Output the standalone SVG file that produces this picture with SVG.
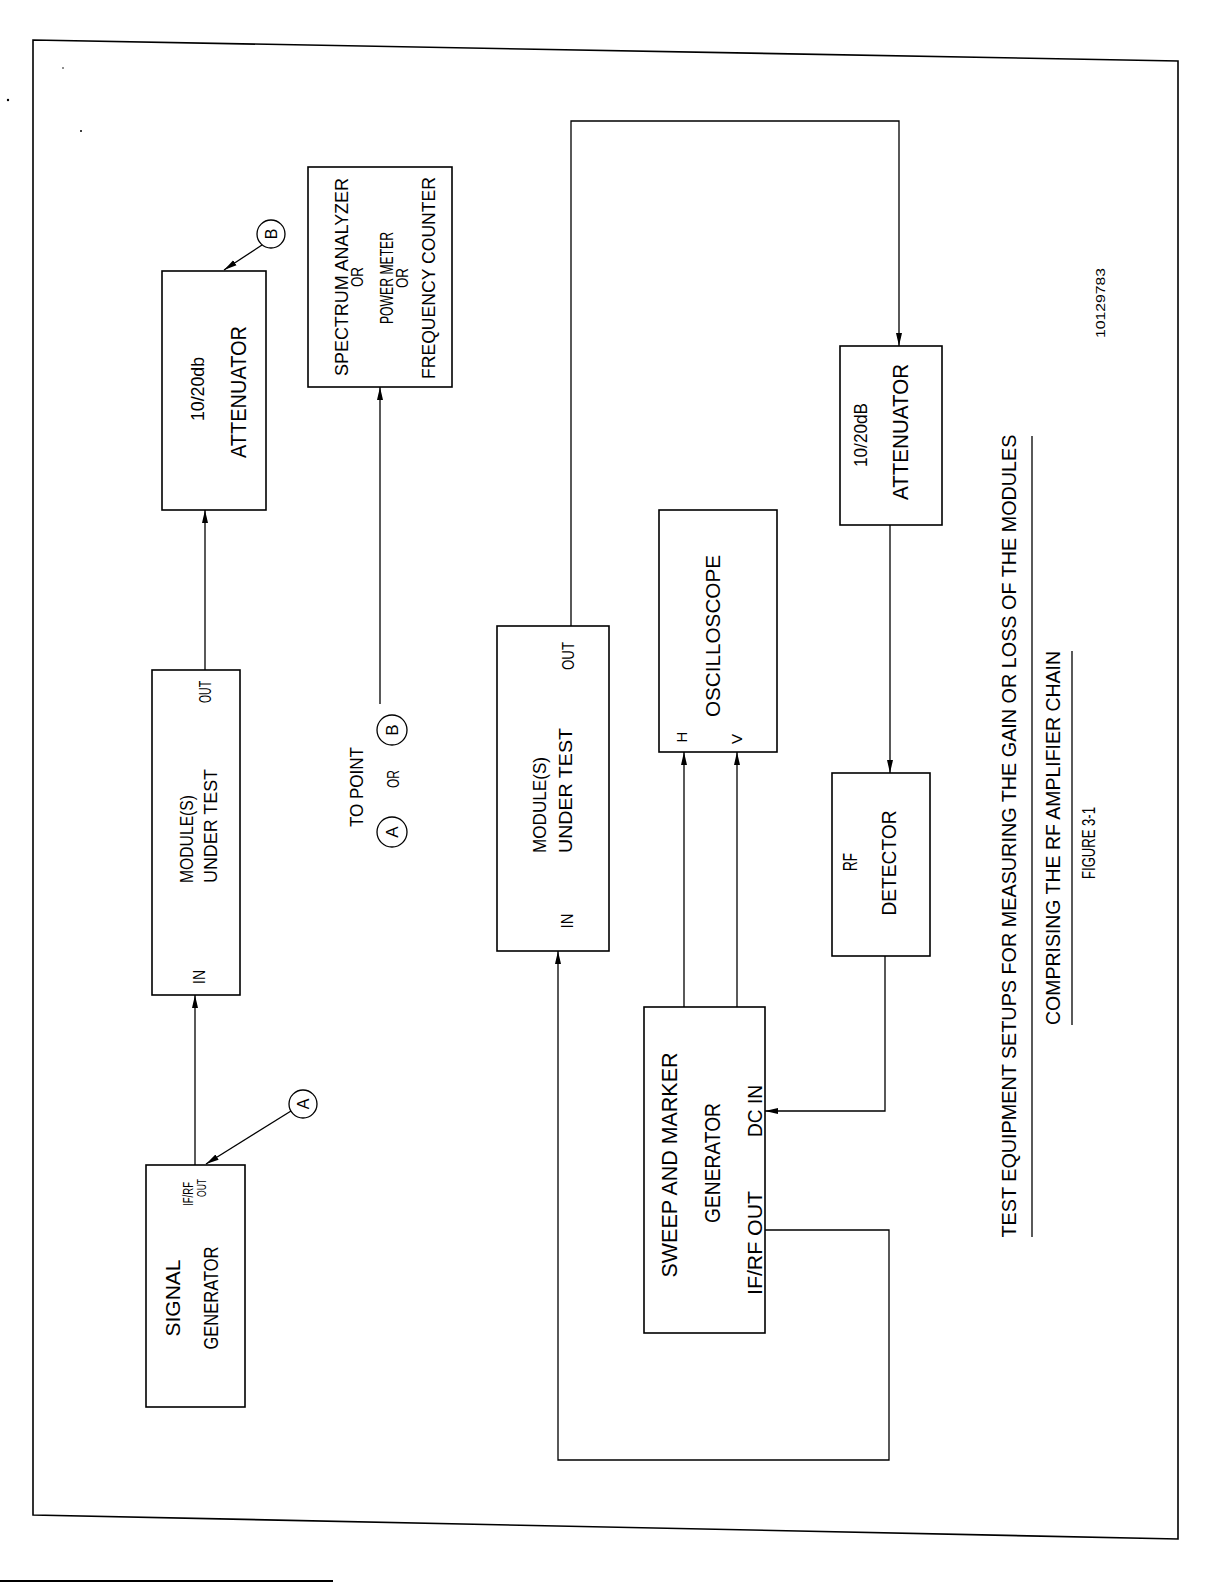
<svg xmlns="http://www.w3.org/2000/svg" width="1224" height="1584" viewBox="0 0 1224 1584">
<style>
.box{fill:none;stroke:#000;stroke-width:1.6}
.ln{fill:none;stroke:#000;stroke-width:1.3}
.t{font-family:"Liberation Sans",Arial,sans-serif;fill:#000;text-anchor:middle}
.ts{font-family:"Liberation Sans",Arial,sans-serif;fill:#000;text-anchor:start}
</style>
<defs>
<marker id="ah" markerUnits="userSpaceOnUse" markerWidth="14" markerHeight="8" refX="13" refY="4" orient="auto"><path d="M0,1 L13,4 L0,7 z" fill="#000"/></marker>
</defs>
<rect width="1224" height="1584" fill="#fff"/>
<polygon class="box" points="33,40 1178,61 1178,1539 33,1515"/>
<line x1="0" y1="1581" x2="333" y2="1581" stroke="#000" stroke-width="2"/>
<circle cx="63" cy="68" r="0.8" fill="#000"/>
<circle cx="8" cy="100" r="1.2" fill="#000"/>
<circle cx="81" cy="131" r="1" fill="#000"/>

<g id="signal-generator">
<rect class="box" x="146" y="1165" width="99" height="242"/>
<text class="t" font-size="21" textLength="77" lengthAdjust="spacingAndGlyphs" transform="translate(180,1298) rotate(-90)">SIGNAL</text>
<text class="t" font-size="21" textLength="103" lengthAdjust="spacingAndGlyphs" transform="translate(218,1298) rotate(-90)">GENERATOR</text>
<text class="t" font-size="14" textLength="24" lengthAdjust="spacingAndGlyphs" transform="translate(193,1194) rotate(-90)">IF/RF</text>
<text class="t" font-size="13" textLength="18" lengthAdjust="spacingAndGlyphs" transform="translate(206,1188) rotate(-90)">OUT</text>
</g>

<g id="point-a">
<circle class="ln" cx="303" cy="1104" r="14"/>
<text class="t" font-size="16" transform="translate(309,1104) rotate(-90)">A</text>
</g>

<g id="module-1">
<rect class="box" x="152" y="670" width="88" height="325"/>
<text class="ts" font-size="19" textLength="88" lengthAdjust="spacingAndGlyphs" transform="translate(193,883) rotate(-90)">MODULE(S)</text>
<text class="ts" font-size="19" textLength="114" lengthAdjust="spacingAndGlyphs" transform="translate(217,883) rotate(-90)">UNDER TEST</text>
<text class="t" font-size="16" textLength="14" lengthAdjust="spacingAndGlyphs" transform="translate(205,977) rotate(-90)">IN</text>
<text class="t" font-size="16" textLength="22" lengthAdjust="spacingAndGlyphs" transform="translate(211,692) rotate(-90)">OUT</text>
</g>

<g id="attenuator-1">
<rect class="box" x="162" y="271" width="104" height="239"/>
<text class="t" font-size="18" textLength="64" lengthAdjust="spacingAndGlyphs" transform="translate(204,389) rotate(-90)">10/20db</text>
<text class="t" font-size="22" textLength="132" lengthAdjust="spacingAndGlyphs" transform="translate(246,392) rotate(-90)">ATTENUATOR</text>
</g>

<g id="point-b">
<circle class="ln" cx="271" cy="234" r="14"/>
<text class="t" font-size="16" transform="translate(277,234) rotate(-90)">B</text>
</g>

<g id="spectrum-analyzer">
<rect class="box" x="308" y="167" width="144" height="220"/>
<text class="t" font-size="19" textLength="198" lengthAdjust="spacingAndGlyphs" transform="translate(348,277) rotate(-90)">SPECTRUM ANALYZER</text>
<text class="t" font-size="17" textLength="20" lengthAdjust="spacingAndGlyphs" transform="translate(363,277) rotate(-90)">OR</text>
<text class="t" font-size="19" textLength="92" lengthAdjust="spacingAndGlyphs" transform="translate(393,278) rotate(-90)">POWER METER</text>
<text class="t" font-size="17" textLength="20" lengthAdjust="spacingAndGlyphs" transform="translate(408,278) rotate(-90)">OR</text>
<text class="t" font-size="19" textLength="202" lengthAdjust="spacingAndGlyphs" transform="translate(435,278) rotate(-90)">FREQUENCY COUNTER</text>
</g>

<g id="to-point">
<text class="t" font-size="18" textLength="80" lengthAdjust="spacingAndGlyphs" transform="translate(363,787) rotate(-90)">TO POINT</text>
<circle class="ln" cx="392" cy="832" r="15"/>
<text class="t" font-size="17" transform="translate(398,832) rotate(-90)">A</text>
<text class="t" font-size="17" textLength="18" lengthAdjust="spacingAndGlyphs" transform="translate(399,779) rotate(-90)">OR</text>
<circle class="ln" cx="392" cy="730" r="15"/>
<text class="t" font-size="17" transform="translate(398,730) rotate(-90)">B</text>
</g>

<g id="module-2">
<rect class="box" x="497" y="626" width="112" height="325"/>
<text class="ts" font-size="19" textLength="96" lengthAdjust="spacingAndGlyphs" transform="translate(546,853) rotate(-90)">MODULE(S)</text>
<text class="ts" font-size="19" textLength="125" lengthAdjust="spacingAndGlyphs" transform="translate(572,853) rotate(-90)">UNDER TEST</text>
<text class="t" font-size="16" textLength="15" lengthAdjust="spacingAndGlyphs" transform="translate(573,921) rotate(-90)">IN</text>
<text class="t" font-size="16" textLength="28" lengthAdjust="spacingAndGlyphs" transform="translate(574,656) rotate(-90)">OUT</text>
</g>

<g id="oscilloscope">
<rect class="box" x="659" y="510" width="118" height="242"/>
<text class="t" font-size="20" textLength="162" lengthAdjust="spacingAndGlyphs" transform="translate(720,636) rotate(-90)">OSCILLOSCOPE</text>
<text class="t" font-size="15" transform="translate(687,737) rotate(-90)">H</text>
<text class="t" font-size="15" transform="translate(742,739) rotate(-90)">V</text>
</g>

<g id="sweep-marker-generator">
<rect class="box" x="644" y="1007" width="121" height="326"/>
<text class="t" font-size="22" textLength="225" lengthAdjust="spacingAndGlyphs" transform="translate(677,1165) rotate(-90)">SWEEP AND MARKER</text>
<text class="t" font-size="22" textLength="120" lengthAdjust="spacingAndGlyphs" transform="translate(720,1163) rotate(-90)">GENERATOR</text>
<text class="t" font-size="20" textLength="104" lengthAdjust="spacingAndGlyphs" transform="translate(762,1243) rotate(-90)">IF/RF OUT</text>
<text class="t" font-size="20" textLength="52" lengthAdjust="spacingAndGlyphs" transform="translate(762,1111) rotate(-90)">DC IN</text>
</g>

<g id="attenuator-2">
<rect class="box" x="840" y="346" width="102" height="179"/>
<text class="t" font-size="18" textLength="64" lengthAdjust="spacingAndGlyphs" transform="translate(867,435) rotate(-90)">10/20dB</text>
<text class="t" font-size="22" textLength="136" lengthAdjust="spacingAndGlyphs" transform="translate(908,432) rotate(-90)">ATTENUATOR</text>
</g>

<g id="rf-detector">
<rect class="box" x="832" y="773" width="98" height="183"/>
<text class="t" font-size="20" textLength="18" lengthAdjust="spacingAndGlyphs" transform="translate(857,862) rotate(-90)">RF</text>
<text class="t" font-size="21" textLength="105" lengthAdjust="spacingAndGlyphs" transform="translate(896,863) rotate(-90)">DETECTOR</text>
</g>

<g id="title">
<text class="t" font-size="20" textLength="803" lengthAdjust="spacingAndGlyphs" transform="translate(1016,836) rotate(-90)">TEST EQUIPMENT SETUPS FOR MEASURING THE GAIN OR LOSS OF THE MODULES</text>
<line class="ln" x1="1032" y1="436" x2="1032" y2="1237"/>
<text class="t" font-size="20" textLength="374" lengthAdjust="spacingAndGlyphs" transform="translate(1060,838) rotate(-90)">COMPRISING THE RF AMPLIFIER CHAIN</text>
<line class="ln" x1="1072" y1="651" x2="1072" y2="1025"/>
<text class="t" font-size="18" textLength="72" lengthAdjust="spacingAndGlyphs" transform="translate(1095,843) rotate(-90)">FIGURE 3-1</text>
<text class="t" font-size="13" textLength="70" lengthAdjust="spacingAndGlyphs" transform="translate(1105,303) rotate(-90)">10129783</text>
</g>

<g id="connectors">
<path class="ln" d="M195,1165 L195,995" marker-end="url(#ah)"/>
<path class="ln" d="M205,670 L205,510" marker-end="url(#ah)"/>
<path class="ln" d="M291,1111 L206,1164" marker-end="url(#ah)"/>
<path class="ln" d="M262,245 L224,270" marker-end="url(#ah)"/>
<path class="ln" d="M380,704 L380,387" marker-end="url(#ah)"/>
<path class="ln" d="M571,626 L571,121 L899,121 L899,346" marker-end="url(#ah)"/>
<path class="ln" d="M890,525 L890,773" marker-end="url(#ah)"/>
<path class="ln" d="M885,956 L885,1111 L765,1111" marker-end="url(#ah)"/>
<path class="ln" d="M684,1007 L684,752" marker-end="url(#ah)"/>
<path class="ln" d="M737,1007 L737,752" marker-end="url(#ah)"/>
<path class="ln" d="M765,1230 L889,1230 L889,1460 L558,1460 L558,951" marker-end="url(#ah)"/>
</g>
</svg>
